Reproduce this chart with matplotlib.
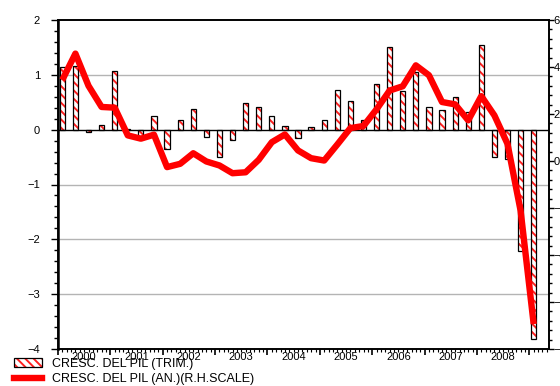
import matplotlib
matplotlib.use("Agg")
import matplotlib.pyplot as plt
from matplotlib.ticker import MultipleLocator, NullFormatter
from matplotlib.patches import Patch
from matplotlib.lines import Line2D
from matplotlib.legend_handler import HandlerTuple
import matplotlib.transforms as mtransforms

plt.rcParams['font.family'] = ['Liberation Sans', 'DejaVu Sans']
plt.rcParams['hatch.linewidth'] = 1.4

# quarterly GDP growth (left scale), 2000Q1 .. 2009Q1
trim = [1.14, 1.17, -0.04, 0.08, 1.07, 0.02, -0.12, 0.25, -0.35, 0.17,
        0.37, -0.14, -0.50, -0.19, 0.48, 0.41, 0.25, 0.07, -0.16, 0.04,
        0.17, 0.72, 0.52, 0.17, 0.83, 1.51, 0.70, 1.05, 0.41, 0.35,
        0.59, 0.33, 1.54, -0.49, -0.53, -2.22, -3.81]
# annual GDP growth (right scale)
annual = [3.45, 4.57, 3.2, 2.3, 2.27, 1.09, 0.95, 1.12, -0.26, -0.12,
          0.33, -0.02, -0.19, -0.52, -0.48, 0.05, 0.80, 1.13, 0.45, 0.12,
          0.02, 0.70, 1.40, 1.49, 2.2, 3.0, 3.18, 4.07, 3.65, 2.51,
          2.41, 1.73, 2.76, 1.94, 0.73, -2.11, -6.94]
years = ['2000', '2001', '2002', '2003', '2004', '2005', '2006', '2007', '2008']

x = [i + 0.33 for i in range(len(trim))]

fig = plt.figure(figsize=(5.6, 3.86), dpi=100)
ax = fig.add_axes([58 / 560, 37 / 386, 491 / 560, 329 / 386])
ax2 = ax.twinx()

ax.set_xlim(0, 37.5)
ax.set_ylim(-4, 2)
ax2.set_ylim(-8, 6)

for g in [1, -1, -2, -3]:
    ax.axhline(g, color='#b4b4b4', lw=1, zorder=0)
ax.axhline(0, color='black', lw=1, zorder=3)

# hatched bars: red hatch layer, then black outline
ax.bar(x, trim, width=0.4, color='white', edgecolor='#ff2020', hatch='\\\\\\\\', lw=0, zorder=2)
ax.bar(x, trim, width=0.4, facecolor='none', edgecolor='black', lw=0.9, zorder=2)

ax2.plot(x, annual, color='#ff0000', lw=4.6, solid_joinstyle='round', solid_capstyle='butt')

for a in (ax, ax2):
    for s in a.spines.values():
        s.set_linewidth(1.2)
ax.spines['left'].set_linewidth(1.8)

ax.yaxis.set_major_locator(MultipleLocator(1))
ax.yaxis.set_minor_locator(MultipleLocator(0.2))
ax2.yaxis.set_major_locator(MultipleLocator(2))
ax2.yaxis.set_minor_locator(MultipleLocator(0.4))
ax.xaxis.set_major_locator(MultipleLocator(4))
ax.xaxis.set_minor_locator(MultipleLocator(1 / 3))
ax.xaxis.set_major_formatter(NullFormatter())

ax.tick_params(axis='y', which='major', length=5, width=1, labelsize=8, pad=8)
ax.tick_params(axis='y', which='minor', length=3, width=1)
ax2.tick_params(axis='y', which='major', length=3.5, width=1, labelsize=8, pad=0)
ax2.tick_params(axis='y', which='minor', length=2.5, width=1)
ax.tick_params(axis='x', which='major', length=4, width=1.2)
ax.tick_params(axis='x', which='minor', length=2.5, width=0.8)

trans = mtransforms.blended_transform_factory(ax.transData, ax.transAxes)
for i, y in enumerate(years):
    ax.text(i * 4 + 2, -0.008, y, transform=trans, ha='center', va='top', fontsize=8)

hatch_patch = Patch(facecolor='white', edgecolor='#ff2020', hatch='\\\\\\\\', lw=0)
outline_patch = Patch(facecolor='none', edgecolor='black', lw=0.9)
handles = [(hatch_patch, outline_patch), Line2D([0], [0], color='#ff0000', lw=4.6)]
fig.legend(handles, ['CRESC. DEL PIL (TRIM.)', 'CRESC. DEL PIL (AN.)(R.H.SCALE)'],
           handler_map={tuple: HandlerTuple(ndivide=1, pad=0)},
           loc='lower left', bbox_to_anchor=(0.005, -0.027), frameon=False,
           fontsize=9, handlelength=2.2, handletextpad=0.8, labelspacing=0.28)

fig.savefig('out.png', dpi=100)
